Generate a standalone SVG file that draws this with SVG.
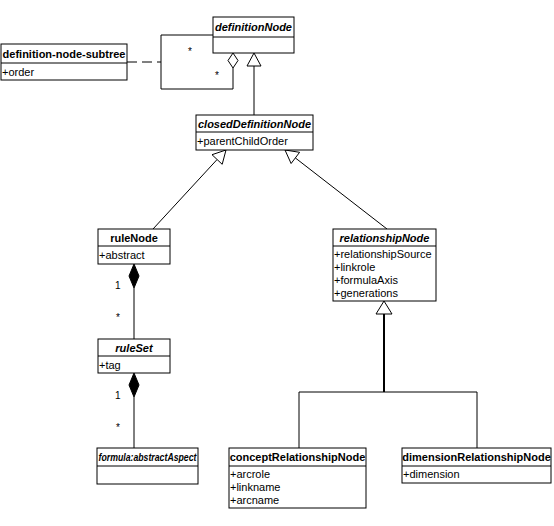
<svg xmlns="http://www.w3.org/2000/svg" width="554" height="526" viewBox="0 0 554 526">
<style>
.box{fill:#fff;stroke:#000;stroke-width:1}
.div{stroke:#000;stroke-width:1}
.name{font-family:"Liberation Sans",Arial,sans-serif;font-size:11px;font-weight:bold;text-anchor:middle;fill:#000}
.abs{font-style:italic}
.attr{font-family:"Liberation Sans",Arial,sans-serif;font-size:11px;fill:#000}
.lbl{font-family:"Liberation Sans",Arial,sans-serif;font-size:10px;fill:#000}
.ln{fill:none;stroke:#000;stroke-width:1}
.hollow{fill:#fff;stroke:#000;stroke-width:1}
.solid{fill:#000;stroke:#000;stroke-width:1}
</style>
<rect width="554" height="526" fill="#fff"/>
<g id="connectors">
  <line class="ln" x1="127" y1="62" x2="161" y2="62" stroke-dasharray="10,5"/>
  <polyline class="ln" points="213,35 161,35 161,89 233,89 233,68"/>
  <polygon class="hollow" points="233,53 238,60.5 233,68 228,60.5"/>
  <text class="lbl" x="188" y="55">*</text>
  <text class="lbl" x="215" y="79">*</text>
  <line class="ln" x1="254" y1="66" x2="254" y2="115"/>
  <polygon class="hollow" points="254,53 261,66 247,66"/>
  <line class="ln" x1="217.1" y1="159.5" x2="153" y2="229"/>
  <polygon class="hollow" points="226,150 222.2,164.3 212,154.7"/>
  <line class="ln" x1="295.3" y1="157.9" x2="387" y2="229"/>
  <polygon class="hollow" points="285,150 291.1,163.5 299.6,152.3"/>
  <line class="ln" x1="134" y1="288" x2="134" y2="339"/>
  <polygon class="solid" points="134,264 139,276 134,288 129,276"/>
  <text class="lbl" x="115" y="289">1</text>
  <text class="lbl" x="116" y="321">*</text>
  <line class="ln" x1="134" y1="397" x2="134" y2="448"/>
  <polygon class="solid" points="134,373 139,385 134,397 129,385"/>
  <text class="lbl" x="115" y="399">1</text>
  <text class="lbl" x="116" y="431">*</text>
  <line x1="384" y1="314" x2="384" y2="392" stroke="#000" stroke-width="2"/>
  <polyline class="ln" points="299,448 299,392 477,392 477,448"/>
  <polygon class="hollow" points="384,301 392,314 376,314"/>
</g>
<g id="definition-node-subtree">
  <rect class="box" x="1" y="44" width="126" height="36"/>
  <line class="div" x1="1" y1="63" x2="127" y2="63"/>
  <text class="name" x="64" y="58">definition-node-subtree</text>
  <text class="attr" x="2" y="76">+order</text>
</g>
<g id="definitionNode">
  <rect class="box" x="213" y="17" width="81" height="36"/>
  <line class="div" x1="213" y1="37" x2="294" y2="37"/>
  <text class="name abs" x="253.5" y="31">definitionNode</text>
</g>
<g id="closedDefinitionNode">
  <rect class="box" x="196" y="115" width="117" height="35"/>
  <line class="div" x1="196" y1="132" x2="313" y2="132"/>
  <text class="name abs" x="254.5" y="128">closedDefinitionNode</text>
  <text class="attr" x="197" y="145">+parentChildOrder</text>
</g>
<g id="ruleNode">
  <rect class="box" x="98" y="229" width="72" height="35"/>
  <line class="div" x1="98" y1="246" x2="170" y2="246"/>
  <text class="name" x="134" y="242">ruleNode</text>
  <text class="attr" x="99" y="259">+abstract</text>
</g>
<g id="relationshipNode">
  <rect class="box" x="333" y="229" width="103" height="72"/>
  <line class="div" x1="333" y1="246" x2="436" y2="246"/>
  <text class="name abs" x="384.5" y="242">relationshipNode</text>
  <text class="attr" x="334" y="258">+relationshipSource</text>
  <text class="attr" x="334" y="271">+linkrole</text>
  <text class="attr" x="334" y="284">+formulaAxis</text>
  <text class="attr" x="334" y="297">+generations</text>
</g>
<g id="ruleSet">
  <rect class="box" x="98" y="339" width="72" height="34"/>
  <line class="div" x1="98" y1="356" x2="170" y2="356"/>
  <text class="name abs" x="134" y="352">ruleSet</text>
  <text class="attr" x="99" y="369">+tag</text>
</g>
<g id="formula-abstractAspect">
  <rect class="box" x="97" y="448" width="101" height="36"/>
  <line class="div" x1="97" y1="466" x2="198" y2="466"/>
  <text class="name abs" x="147.5" y="461" style="font-size:10.5px" textLength="98" lengthAdjust="spacingAndGlyphs">formula:abstractAspect</text>
</g>
<g id="conceptRelationshipNode">
  <rect class="box" x="229" y="448" width="137" height="60"/>
  <line class="div" x1="229" y1="466" x2="366" y2="466"/>
  <text class="name" x="297.5" y="461">conceptRelationshipNode</text>
  <text class="attr" x="230" y="478">+arcrole</text>
  <text class="attr" x="230" y="491">+linkname</text>
  <text class="attr" x="230" y="504">+arcname</text>
</g>
<g id="dimensionRelationshipNode">
  <rect class="box" x="402" y="448" width="149" height="35"/>
  <line class="div" x1="402" y1="466" x2="551" y2="466"/>
  <text class="name" x="476.5" y="461">dimensionRelationshipNode</text>
  <text class="attr" x="403" y="478">+dimension</text>
</g>
</svg>
